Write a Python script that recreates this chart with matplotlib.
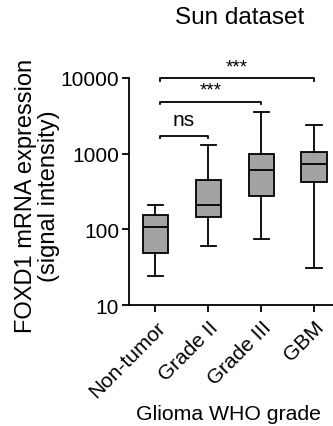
import matplotlib
matplotlib.use('Agg')
import matplotlib.pyplot as plt
from matplotlib.ticker import FixedLocator, NullLocator

plt.rcParams['font.family'] = ['Liberation Sans', 'DejaVu Sans']

groups = ['Non-tumor', 'Grade II', 'Grade III', 'GBM']
whislo = [24, 60, 74, 31]
q1 = [49, 146, 277, 424]
med = [109, 210, 610, 742]
q3 = [157, 450, 985, 1038]
whishi = [208, 1306, 3570, 2400]

# significance brackets: (group a, group b, height, label)
brackets = [(0, 1, 1720, 'ns'), (0, 2, 4840, '***'), (0, 3, 9900, '***')]

stats = []
for i, g in enumerate(groups):
    stats.append(dict(label=g, whislo=whislo[i], q1=q1[i], med=med[i],
                      q3=q3[i], whishi=whishi[i], fliers=[]))

fig = plt.figure(figsize=(3.33, 4.27), dpi=100)
ax = fig.add_axes([0.387, 0.283, 0.62, 0.532])

lw = 1.3
ax.bxp(stats, positions=range(len(groups)), widths=0.48, patch_artist=True,
       showfliers=False,
       boxprops=dict(facecolor='#a3a3a6', edgecolor='black', linewidth=lw),
       medianprops=dict(color='black', linewidth=lw),
       whiskerprops=dict(color='black', linewidth=lw),
       capprops=dict(color='black', linewidth=lw),
       capwidths=0.29)

ax.set_yscale('log')
ax.set_ylim(10, 10000)
ax.set_xlim(-0.5, 3.4)
ax.yaxis.set_major_locator(FixedLocator([10, 100, 1000, 10000]))
ax.yaxis.set_minor_locator(NullLocator())
ax.set_yticklabels(['10', '100', '1000', '10000'])
ax.set_xticks(range(len(groups)))
ax.set_xticklabels(groups, rotation=45, ha='right', rotation_mode='anchor')

ax.spines['top'].set_visible(False)
ax.spines['right'].set_visible(False)
ax.spines['left'].set_linewidth(lw)
ax.spines['bottom'].set_linewidth(lw)
ax.tick_params(axis='both', labelsize=15, width=lw, length=5, direction='out')
ax.tick_params(axis='y', pad=2)

fig.text(0.113, 0.54, 'FOXD1 mRNA expression\n(signal intensity)', fontsize=17,
         rotation=90, ha='center', va='center', linespacing=1.05)
fig.text(0.685, 0.03, 'Glioma WHO grade', fontsize=15.3, ha='center', va='center')
fig.text(0.72, 0.958, 'Sun dataset', fontsize=17.5, ha='center', va='center')

for a, b, h, lab in brackets:
    xa, xb = a + 0.08, b
    ax.plot([xa, xa, xb, xb], [h * 0.93, h, h, h * 0.93], color='black',
            linewidth=lw, clip_on=False)
    if lab == 'ns':
        ax.text((xa + xb) / 2, h * 1.22, lab, ha='center', va='bottom', fontsize=15)
    else:
        ax.text((xa + xb) / 2, h * 1.1, lab, ha='center', va='bottom', fontsize=13.5)

fig.savefig('out.png', dpi=100)
